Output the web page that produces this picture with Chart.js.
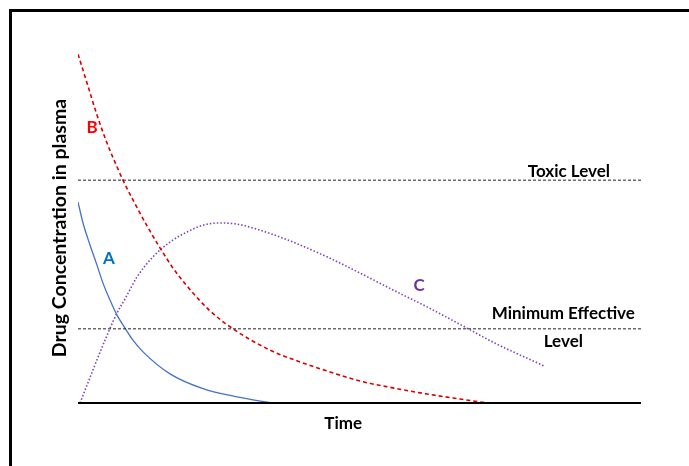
<!DOCTYPE html>
<html>
<head>
<meta charset="utf-8">
<script src="https://cdn.jsdelivr.net/npm/chart.js@4/dist/chart.umd.min.js"></script>
<style>
html,body{margin:0;padding:0;background:#fff;}
#wrap{width:689px;height:466px;position:relative;}
</style>
</head>
<body>
<div id="wrap"><canvas id="c" width="689" height="466"></canvas></div>
<script>
// Values (x: time units 0-100, y: concentration units 0-100)
const curveB_x = [0, 1.6, 3.37, 5.15, 6.93, 7.99, 9.77, 12.26, 14.56, 16.87, 19.36, 23.45, 27.53, 34.1, 39.43, 44.23, 50.09, 55.95, 61.99, 67.85, 72.65];
const curveB_y = [96.9, 88.9, 80.0, 72.2, 65.6, 61.9, 56.4, 49.2, 43.1, 37.5, 32.5, 25.6, 20.6, 14.7, 11.4, 8.9, 6.1, 4.2, 2.5, 1.1, 0];
const curveA_x = [0, 0.89, 2.13, 3.37, 4.44, 5.68, 6.93, 8.35, 9.59, 11.55, 16.34, 22.2, 28.24, 34.46];
const curveA_y = [55.8, 50.0, 43.9, 38.3, 33.3, 28.6, 24.4, 20.8, 17.8, 14.2, 8.1, 4.0, 1.7, 0];
const curveC_x = [0.36, 2.66, 4.97, 6.93, 8.35, 10.48, 13.32, 16.34, 19.36, 22.2, 25.22, 28.24, 31.08, 34.1, 38.19, 44.23, 50.09, 55.95, 61.99, 69.09, 73.71, 82.77];
const curveC_y = [0, 9.2, 18.1, 25.0, 28.9, 35.0, 40.6, 44.7, 47.5, 49.4, 50.0, 49.7, 48.6, 47.1, 44.7, 40.6, 36.1, 31.4, 26.7, 20.8, 16.9, 10.3];
const levelNames = ["Toxic Level", "Minimum Effective Level"];
const levelValues = [61.9, 20.6];
const levelSpan = [0, 100];
const seriesNames = ["A", "B", "C"];
const xTitle = "Time";
const yTitle = "Drug Concentration in plasma";

function pts(xs, ys){ return xs.map((x,i)=>({x:x, y:ys[i]})); }

const FONT = 'Lato, "Open Sans", sans-serif';

const decor = {
  id: 'decor',
  afterDraw(chart){
    const ctx = chart.ctx;
    const xs = chart.scales.x, ys = chart.scales.y;
    ctx.save();
    // outer frame (left and top visible)
    ctx.fillStyle = '#000';
    ctx.fillRect(9, 9, 3, 466);
    ctx.fillRect(9, 9, 689, 3);
    // x axis line
    ctx.strokeStyle = '#000';
    ctx.lineWidth = 2;
    ctx.beginPath();
    ctx.moveTo(xs.getPixelForValue(0), ys.getPixelForValue(0));
    ctx.lineTo(xs.getPixelForValue(100), ys.getPixelForValue(0));
    ctx.stroke();
    // texts
    ctx.fillStyle = '#000';
    ctx.font = 'bold 17px ' + FONT;
    ctx.textAlign = 'center';
    ctx.textBaseline = 'middle';
    ctx.fillText(levelNames[0], xs.getPixelForValue(87.2), ys.getPixelForValue(levelValues[0]) - 9);
    ctx.fillText("Minimum Effective", xs.getPixelForValue(86.2), ys.getPixelForValue(levelValues[1]) - 15);
    ctx.fillText("Level", xs.getPixelForValue(86.2), ys.getPixelForValue(levelValues[1]) + 13);
    ctx.fillText(xTitle, xs.getPixelForValue(47.1), ys.getPixelForValue(0) + 21);
    ctx.save();
    ctx.font = 'bold 19.5px ' + FONT;
    ctx.translate(60, ys.getPixelForValue(48.6));
    ctx.rotate(-Math.PI/2);
    ctx.fillText(yTitle, 0, 0);
    ctx.restore();
    // series labels
    ctx.font = 'bold 17px ' + FONT;
    ctx.fillStyle = '#0070C0';
    ctx.fillText(seriesNames[0], xs.getPixelForValue(5.5), ys.getPixelForValue(40));
    ctx.fillStyle = '#FF0000';
    ctx.fillText(seriesNames[1], xs.getPixelForValue(2.5), ys.getPixelForValue(76.4));
    ctx.fillStyle = '#7030A0';
    ctx.fillText(seriesNames[2], xs.getPixelForValue(60.6), ys.getPixelForValue(32.5));
    ctx.restore();
  }
};

new Chart(document.getElementById('c'), {
  type: 'line',
  data: {
    datasets: [
      { label: levelNames[0], data: pts(levelSpan, [levelValues[0], levelValues[0]]),
        borderColor: '#222', borderWidth: 1, borderDash: [3,2], pointRadius: 0, tension: 0 },
      { label: levelNames[1], data: pts(levelSpan, [levelValues[1], levelValues[1]]),
        borderColor: '#222', borderWidth: 1, borderDash: [3,2], pointRadius: 0, tension: 0 },
      { label: seriesNames[0], data: pts(curveA_x, curveA_y),
        borderColor: '#4472C4', borderWidth: 1.3, pointRadius: 0, cubicInterpolationMode: 'monotone' },
      { label: seriesNames[1], data: pts(curveB_x, curveB_y),
        borderColor: '#D90000', borderWidth: 1.6, borderDash: [4,3], pointRadius: 0, cubicInterpolationMode: 'monotone' },
      { label: seriesNames[2], data: pts(curveC_x, curveC_y),
        borderColor: '#8040C0', borderWidth: 1.6, borderDash: [1.5,2], pointRadius: 0, cubicInterpolationMode: 'monotone' }
    ]
  },
  options: {
    responsive: false,
    animation: false,
    layout: { padding: { left: 78, right: 48, top: 43, bottom: 63 } },
    plugins: { legend: { display: false }, tooltip: { enabled: false } },
    scales: {
      x: { type: 'linear', min: 0, max: 100, display: false },
      y: { type: 'linear', min: 0, max: 100, display: false }
    }
  },
  plugins: [decor]
});
</script>
</body>
</html>
